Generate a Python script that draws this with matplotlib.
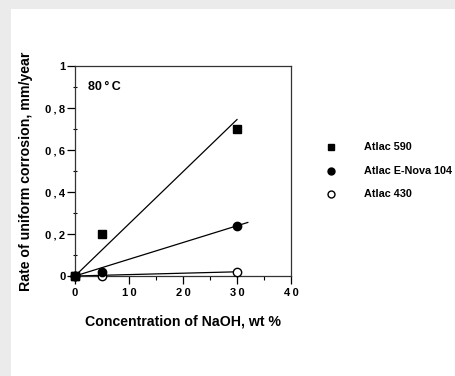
import matplotlib
matplotlib.use("Agg")
import matplotlib.pyplot as plt
from matplotlib.lines import Line2D
from matplotlib.patches import Rectangle
from matplotlib.ticker import MultipleLocator

plt.rcParams['font.family'] = ['Liberation Sans', 'DejaVu Sans']
plt.rcParams['font.weight'] = 'bold'

# measured points
x_naoh = [0, 5, 30]
atlac_590 = [0, 0.2, 0.7]
atlac_enova = [0, 0.02, 0.24]
atlac_430 = [0, 0.0, 0.02]

# trend lines (end points)
fit_590_x = [0, 30]
fit_590_y = [0, 0.745]
fit_enova_x = [0, 32]
fit_enova_y = [0, 0.255]
fit_430_x = [0, 30]
fit_430_y = [0, 0.02]

series_names = ['Atlac 590', 'Atlac E-Nova 104', 'Atlac 430']
x_ticks = [0, 10, 20, 30, 40]
x_tick_labels = ['0', '1\u20090', '2\u20090', '3\u20090', '4\u20090']
y_ticks = [0, 0.2, 0.4, 0.6, 0.8, 1]
y_tick_labels = ['0', '0\u2009,\u20092', '0\u2009,\u20094', '0\u2009,\u20096', '0\u2009,\u20098', '1']

fig = plt.figure(figsize=(4.56, 3.76), dpi=100, facecolor='white')
# grey frame on the left / top
fig.add_artist(Rectangle((0, 0), 11 / 456, 1, transform=fig.transFigure,
                         facecolor='#ebebeb', edgecolor='none', zorder=-10))
fig.add_artist(Rectangle((0, 1 - 9 / 376), 1, 9 / 376, transform=fig.transFigure,
                         facecolor='#ebebeb', edgecolor='none', zorder=-10))

ax = fig.add_axes([75 / 456, 100 / 376, 216 / 456, 210 / 376])

lw = 0.9
ax.plot(fit_590_x, fit_590_y, color='black', lw=lw)
ax.plot(fit_enova_x, fit_enova_y, color='black', lw=lw)
ax.plot(fit_430_x, fit_430_y, color='black', lw=lw)

ax.plot(x_naoh, atlac_590, 's', color='black', ms=6, clip_on=False, zorder=5)
ax.plot(x_naoh, atlac_enova, 'o', color='black', ms=6, clip_on=False, zorder=5)
ax.plot(x_naoh, atlac_430, 'o', mfc='white', mec='black', mew=1, ms=6,
        clip_on=False, zorder=4)
ax.plot([0], [0], 's', color='black', ms=6, clip_on=False, zorder=6)

ax.set_xlim(0, 40)
ax.set_ylim(0, 1)
ax.set_xticks(x_ticks)
ax.set_xticklabels(x_tick_labels)
ax.set_yticks(y_ticks)
ax.set_yticklabels(y_tick_labels)
ax.xaxis.set_minor_locator(MultipleLocator(5))
ax.yaxis.set_minor_locator(MultipleLocator(0.1))
ax.tick_params(which='major', direction='out', length=6, width=0.9, labelsize=8)
ax.tick_params(axis='y', which='major', pad=1)
ax.tick_params(axis='x', which='major', pad=2.5)
ax.tick_params(axis='y', which='minor', direction='inout', length=3, width=0.8)
ax.tick_params(axis='x', which='minor', direction='out', length=3, width=0.8)
for s in ax.spines.values():
    s.set_linewidth(0.9)
    s.set_color('#333333')

ax.set_xlabel('Concentration of NaOH, wt %', fontsize=10.2, fontweight='bold', labelpad=12)
ax.set_ylabel('Rate of uniform corrosion, mm/year', fontsize=10.2, fontweight='bold', labelpad=9)
ax.text(0.06, 0.9, '80\u2009°\u2009C', transform=ax.transAxes, fontsize=9, fontweight='bold',
        ha='left', va='center')

# legend to the right
styles = [dict(marker='s', color='black'),
          dict(marker='o', color='black'),
          dict(marker='o', markerfacecolor='white', markeredgecolor='black')]
rows_y = [229, 205, 182]
for name, st, yy in zip(series_names, styles, rows_y):
    fig.add_artist(Line2D([331 / 456], [yy / 376], transform=fig.transFigure,
                          linestyle='none', ms=5, mew=1, **st))
    fig.text(364 / 456, yy / 376, name, fontsize=7.8, fontweight='bold',
             ha='left', va='center')

fig.savefig('out.png', dpi=100, facecolor='white')
